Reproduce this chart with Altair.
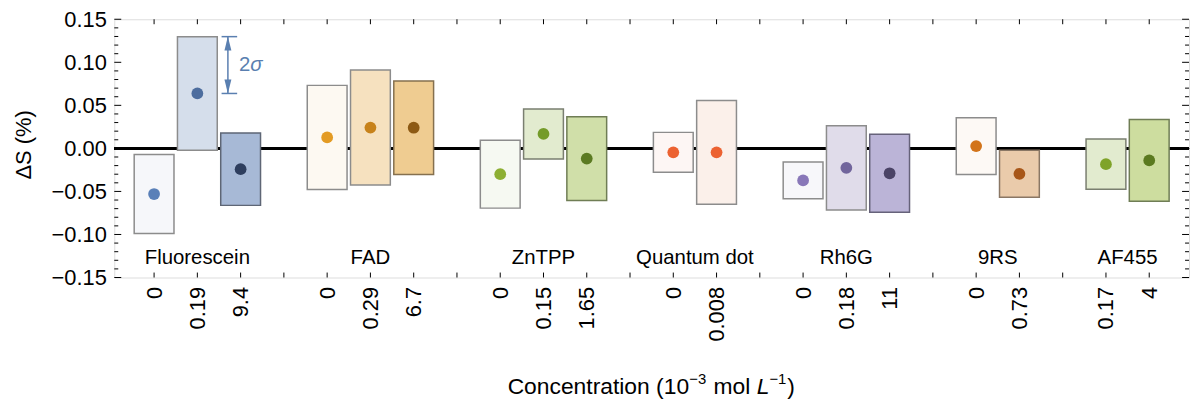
import altair as alt
import pandas as pd

# ---------------- data ----------------
groups = (["Fluorescein"] * 3 + ["FAD"] * 3 + ["ZnTPP"] * 3 + ["Quantum dot"] * 2
          + ["Rh6G"] * 3 + ["9RS"] * 2 + ["AF455"] * 2)
conc_labels = ["0", "0.19", "9.4", "0", "0.29", "6.7", "0", "0.15", "1.65",
               "0", "0.008", "0", "0.18", "11", "0", "0.73", "0.17", "4"]
slots = [1, 2, 3, 5, 6, 7, 9, 10, 11, 13, 14, 16, 17, 18, 20, 21, 23, 24]
means = [-0.0530, 0.0638, -0.0242, 0.0127, 0.0242, 0.0240, -0.0300, 0.0168, -0.0118,
         -0.0046, -0.0046, -0.0372, -0.0226, -0.0289, 0.0027, -0.0295, -0.0183, -0.0140]
spreads = [0.0460, 0.0660, 0.0420, 0.0605, 0.0668, 0.0544, 0.0394, 0.0290, 0.0486,
           0.0232, 0.0603, 0.0213, 0.0490, 0.0453, 0.0330, 0.0273, 0.0291, 0.0475]

major_ticks = [-0.15, -0.10, -0.05, 0.0, 0.05, 0.10, 0.15]
minor_ticks = [-0.14, -0.13, -0.12, -0.11, -0.09, -0.08, -0.07, -0.06, -0.04, -0.03,
               -0.02, -0.01, 0.01, 0.02, 0.03, 0.04, 0.06, 0.07, 0.08, 0.09,
               0.11, 0.12, 0.13, 0.14]
x_ticks = list(range(1, 25))

# x-axis title pieces: (text, superscript?, italic?)
title_parts = [("Concentration (10", False, False), ("−3", True, False),
               ("mol", False, False), ("L", False, True), ("−1", True, False),
               (")", False, False)]

# ---------------- styles ----------------
fills = ["#f6f7fa", "#d5deeb", "#a7b9d6",
         "#fdf9f2", "#f6e1bf", "#efcc91",
         "#f6f9f2", "#e2ebcf", "#d0dfa9",
         "#fdf6f4", "#fbf0ea",
         "#f7f7fa", "#e0dcea", "#bbb4d7",
         "#fdf9f5", "#eacbab",
         "#e2ebcf", "#cddd9f"]
strokes = ["#8c8c8c", "#8c8c8c", "#5e6675",
           "#8c8c8c", "#8c8c8c", "#85704f",
           "#8c8c8c", "#7a7f70", "#6f7d55",
           "#8c8c8c", "#8c8c8c",
           "#8c8c8c", "#8c8c8c", "#66627a",
           "#8c8c8c", "#8a7765",
           "#7a7f70", "#6f7d55"]
dots = ["#5a80b8", "#4d6d9e", "#2e3e5e",
        "#e39b24", "#c7821b", "#8d5a14",
        "#8daf33", "#749b29", "#5b7a22",
        "#ec6231", "#ec6231",
        "#8877b8", "#71659c", "#4a4366",
        "#d2741a", "#a75618",
        "#7fa329", "#5b7a1f"]
ann_color = "#5a7fb0"
FONT = "Liberation Sans"
W, H = 1082, 260
TICK_FS = 22
TITLE_FS = 23
SUP_FS = 15

df = pd.DataFrame({
    "group": groups, "conc": conc_labels, "slot": slots, "mean": means,
    "spread": spreads, "fill": fills, "stroke": strokes, "dot": dots,
})

xscale = alt.Scale(domain=[0.08, 24.92], nice=False, zero=False)
yscale = alt.Scale(domain=[-0.15, 0.15], nice=False, zero=False)

label_expr = ("[" + ",".join("'%s'" % c for c in conc_labels) + "][indexof(["
              + ",".join(str(s) for s in slots) + "], datum.value)]")

base = alt.Chart(df)

zero_line = base.mark_rule(color="black", strokeWidth=2.5).encode(
    x=alt.value(0), x2=alt.value(W), y=alt.datum(0, scale=yscale, axis=None)
)

boxes = base.transform_calculate(
    x0="datum.slot - 0.46", x1="datum.slot + 0.46",
    lo="datum.mean - datum.spread", hi="datum.mean + datum.spread",
).mark_rect(strokeWidth=1.5).encode(
    x=alt.X("x0:Q", scale=xscale, axis=alt.Axis(
        orient="bottom", values=slots, labelExpr=label_expr, ticks=False, tickSize=0,
        domain=False, grid=False, labelAngle=270, labelFontSize=TICK_FS, labelPadding=9,
        labelOverlap=False, labelFlush=False, labelColor="black", title=None)),
    x2="x1:Q",
    y=alt.Y("lo:Q", scale=yscale, axis=alt.Axis(
        orient="left", values=major_ticks, format=".2f", ticks=False, tickSize=0,
        domain=False, grid=False, labelFontSize=TICK_FS, labelPadding=8, labelColor="black",
        labelFlush=False,
        title="ΔS (%)", titleFontSize=22, titleFontWeight="normal", titleX=-91,
        titleY=126, titleAngle=270, titleAlign="center", titleBaseline="middle",
        titleColor="black")),
    y2="hi:Q",
    fill=alt.Fill("fill:N", scale=None),
    stroke=alt.Stroke("stroke:N", scale=None),
)

points = base.mark_circle(size=140, opacity=1).encode(
    x=alt.X("slot:Q", scale=xscale, axis=None),
    y=alt.Y("mean:Q", scale=yscale, axis=None),
    color=alt.Color("dot:N", scale=None),
)

group_labels = base.transform_aggregate(
    center="mean(slot)", groupby=["group"]
).mark_text(fontSize=20.5, color="black", baseline="middle", align="center").encode(
    x=alt.X("center:Q", scale=xscale, axis=None),
    y=alt.datum(-0.127, scale=yscale, axis=None),
    text="group:N",
)

# 2-sigma annotation on the second Fluorescein box
ref = df.iloc[[1]].copy()
ref["top"] = ref["mean"] + ref["spread"]
ref["bot"] = ref["mean"]
ref["mid"] = (ref["top"] + ref["bot"]) / 2
ann = alt.Chart(ref)
ax = 2.706
arrow_line = ann.mark_rule(color=ann_color, strokeWidth=1.5).encode(
    x=alt.datum(ax, scale=xscale, axis=None),
    y=alt.Y("top:Q", scale=yscale, axis=None), y2="bot:Q")
cap_top = ann.mark_rule(color=ann_color, strokeWidth=1.5).encode(
    x=alt.datum(2.56, scale=xscale, axis=None), x2=alt.datum(2.92),
    y=alt.Y("top:Q", scale=yscale, axis=None))
cap_bot = ann.mark_rule(color=ann_color, strokeWidth=1.5).encode(
    x=alt.datum(2.56, scale=xscale, axis=None), x2=alt.datum(2.92),
    y=alt.Y("bot:Q", scale=yscale, axis=None))
head_up = ann.transform_calculate(hy="datum.top - 0.008").mark_point(
    shape="M0,-1L0.5,1L-0.5,1Z", size=196, filled=True, color=ann_color, opacity=1
).encode(x=alt.datum(ax, scale=xscale, axis=None),
         y=alt.Y("hy:Q", scale=yscale, axis=None))
head_down = ann.transform_calculate(hy="datum.bot + 0.008").mark_point(
    shape="M0,1L0.5,-1L-0.5,-1Z", size=196, filled=True, color=ann_color, opacity=1
).encode(x=alt.datum(ax, scale=xscale, axis=None),
         y=alt.Y("hy:Q", scale=yscale, axis=None))
txt2 = ann.mark_text(fontSize=20.5, color=ann_color, align="left", baseline="middle").encode(
    x=alt.datum(2.96, scale=xscale, axis=None),
    y=alt.Y("mid:Q", scale=yscale, axis=None), text=alt.value("2"))
txts = ann.mark_text(fontSize=20.5, color=ann_color, align="left", baseline="middle",
                     fontStyle="italic").encode(
    x=alt.datum(3.22, scale=xscale, axis=None),
    y=alt.Y("mid:Q", scale=yscale, axis=None), text=alt.value("σ"))

# inward tick marks on all four sides
ymaj = alt.Chart(pd.DataFrame({"v": major_ticks}))
ymin = alt.Chart(pd.DataFrame({"v": minor_ticks}))
xt = alt.Chart(pd.DataFrame({"v": x_ticks}))
tick_style = dict(color="black", strokeWidth=1)


def yt(src, x0, x1):
    return src.mark_rule(**tick_style).encode(
        y=alt.Y("v:Q", scale=yscale, axis=None), x=alt.value(x0), x2=alt.value(x1))


def xtk(y0, y1):
    return xt.mark_rule(**tick_style).encode(
        x=alt.X("v:Q", scale=xscale, axis=None), y=alt.value(y0), y2=alt.value(y1))


ticks = [yt(ymaj, 0, 7), yt(ymin, 0, 4), yt(ymaj, W - 7, W), yt(ymin, W - 4, W),
         xtk(H - 5, H), xtk(0, 5)]

# x-axis title assembled from pieces (superscripts, italic L)
em = {"Concentration (10": 7.948, "−3": 1.14, "mol": 1.611, "L": 0.556,
      "−1": 1.14, ")": 0.333}
gaps = {"mol": 0.278, "L": 0.278}
title_layers = []
cx = 396.0
base_y = 377
for txt, sup, ital in title_parts:
    fs = SUP_FS if sup else TITLE_FS
    cx += gaps.get(txt, 0.0) * TITLE_FS
    kw = dict(fontSize=fs, color="black", align="left", baseline="alphabetic")
    if ital:
        kw["fontStyle"] = "italic"
    title_layers.append(
        alt.Chart(pd.DataFrame({"t": [txt]})).mark_text(**kw).encode(
            x=alt.value(cx), y=alt.value(base_y - 10 if sup else base_y), text="t:N"))
    cx += em[txt] * fs + (1 if sup else 0)

chart = alt.layer(
    zero_line, boxes, points, group_labels,
    arrow_line, cap_top, cap_bot, head_up, head_down, txt2, txts,
    *ticks, *title_layers,
).resolve_axis(
    x="independent", y="independent"
).properties(
    width=W, height=H,
    autosize=alt.AutoSizeParams(type="none"),
    padding={"left": 107, "top": 10, "right": 4, "bottom": 125},
).configure_view(
    stroke="#222222", strokeWidth=1.3
).configure(
    font=FONT
)

chart.save("out.html", embed_options={"renderer": "svg", "actions": False})
